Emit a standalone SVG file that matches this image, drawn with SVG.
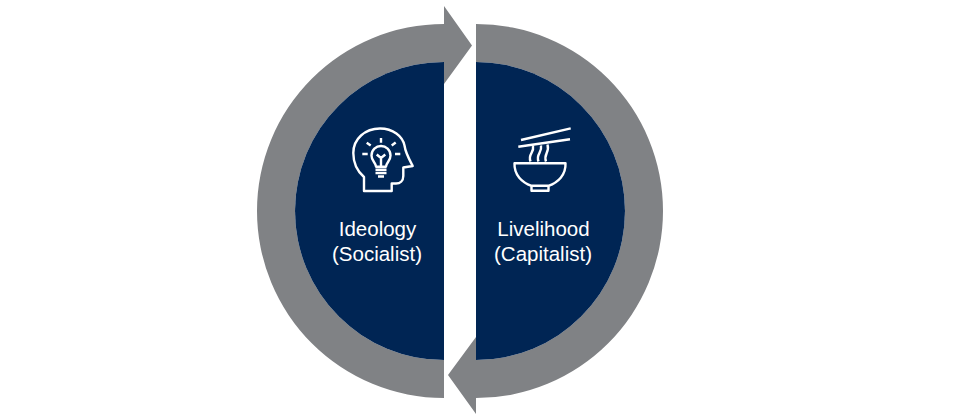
<svg xmlns="http://www.w3.org/2000/svg" width="960" height="419" viewBox="0 0 960 419">
<style>
.disc{fill:#002554}
.ring{fill:#808285}
.icon{fill:none;stroke:#fff;stroke-width:2.400;stroke-linecap:butt;stroke-linejoin:round}
.label{font-family:"Liberation Sans",Arial,sans-serif;font-size:20.500px;fill:#fff;text-anchor:middle}
</style>
<rect width="960" height="419" fill="#fff"/>
<g id="connectors">
<path class="ring" d="M444 398A187 187 0 0 1 444 24V6L472 45.500 444 84V62A149 149 0 0 0 444 360Z"/>
<path class="ring" d="M476 24A187 187 0 0 1 476 398V414L448 375 476 337V360A149 149 0 0 0 476 62Z"/>
</g>
<g id="ideology">
<path class="disc" d="M444 62A149 149 0 0 0 444 360Z"/>
<path class="icon" d="M364 191V177C357 171 353.300 162 353.300 153C353.300 139 365 128.500 380 128.500C393 128.500 402.500 136 404.500 145.500C405.500 153 409.500 160 412.700 166L403.300 167.500V176C403.300 181 400 183.500 396 183.500H391.700V191Z"/>
<path class="icon" d="M376 166.700C375.500 162 371.500 161 371.500 155.500C371.500 150 376 146 381 146C386 146 390.500 150 390.500 155.500C390.500 161 386.500 162 386 166.700ZM381 166.700V158M376.700 154.500L381 158 385.300 154.500M375.500 169.700H386.500M375.500 173H386.500M378 176.500H384M381 138V142.700M366.700 142.700L370.700 145.500M395.700 142.500L391.700 145.500M362.300 154H367.700M395 154H400.300"/>
<text class="label" x="377.500" y="236">Ideology</text>
<text class="label" x="377" y="261">(Socialist)</text>
</g>
<g id="livelihood">
<path class="disc" d="M476 62A149 149 0 0 1 476 360Z"/>
<path class="icon" d="M521 140L570.700 128.300M518.300 146.700L570 139.300M514.500 163.300H565.500C566 175 558 182.500 548.500 185.800V190.700H531.500V185.800C522 182.500 514 175 514.500 163.300ZM531.500 185.800H548.500M530.500 161.500C527.500 154 534.500 153 533 146M538.500 161.500C535.500 154 542.500 153 541 145.500M546 161.500C543 154 550 153 547.500 144.500"/>
<text class="label" x="543.500" y="236">Livelihood</text>
<text class="label" x="543" y="261">(Capitalist)</text>
</g>
</svg>
